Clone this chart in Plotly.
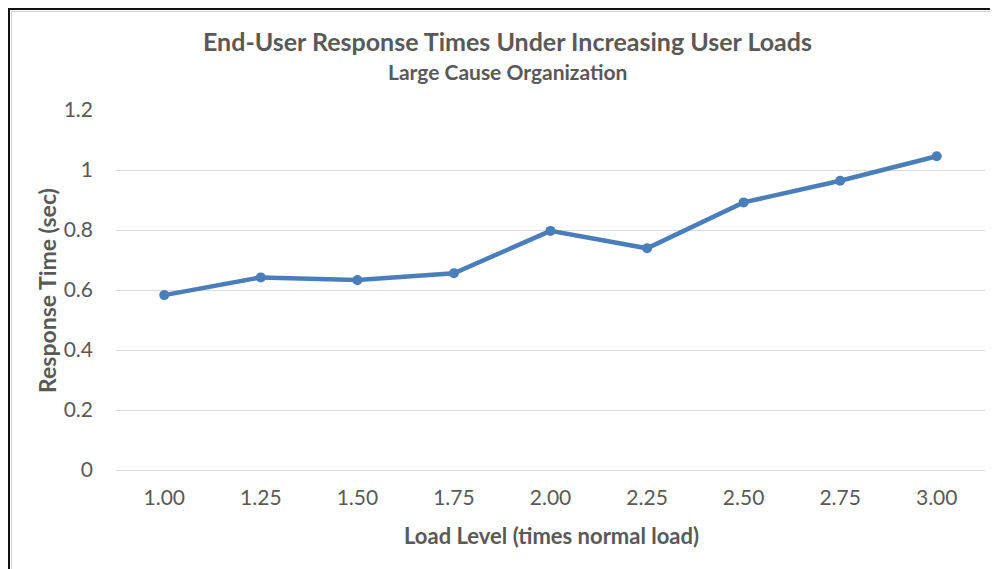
import plotly.graph_objects as go

load_levels = ["1.00", "1.25", "1.50", "1.75", "2.00", "2.25", "2.50", "2.75", "3.00"]
response_times = [0.583, 0.642, 0.633, 0.656, 0.797, 0.739, 0.892, 0.964, 1.046]
y_ticks = [0, 0.2, 0.4, 0.6, 0.8, 1.0, 1.2]
y_tick_text = ["0", "0.2", "0.4", "0.6", "0.8", "1", "1.2"]

# page body has an 8px margin in the browser; figure sized to fit
OFF = 8
W, H = 990, 561
ML, MR, MT, MB = 108, 13, 102, 99
PW, PH = W - ML - MR, H - MT - MB


def px(x):  # screen pixel -> paper x
    return (x - OFF - ML) / PW


def py(y):  # screen pixel -> paper y
    return (OFF + H - MB - y) / PH


FONT = "Lato"
TXT = "#595959"

fig = go.Figure()
fig.add_trace(go.Scatter(
    x=load_levels, y=response_times, mode="lines+markers",
    line=dict(color="#4a7ebb", width=4.5),
    marker=dict(color="#4a7ebb", size=10),
    hoverinfo="skip", showlegend=False,
))

fig.update_layout(
    width=W, height=H,
    margin=dict(l=ML, r=MR, t=MT, b=MB),
    paper_bgcolor="white", plot_bgcolor="white",
    font=dict(family=FONT, color=TXT),
    xaxis=dict(
        type="category", showgrid=False, showline=False, zeroline=False,
        tickfont=dict(size=21, color=TXT), ticklabelstandoff=13,
        range=[-0.5, 8.5],
    ),
    yaxis=dict(
        range=[0, 1.2], tickvals=y_ticks, ticktext=y_tick_text,
        showgrid=True, gridcolor="#d9d9d9", gridwidth=1,
        zeroline=True, zerolinecolor="#d9d9d9", zerolinewidth=1,
        showline=False, tickfont=dict(size=21, color=TXT),
        ticklabelstandoff=22,
    ),
    annotations=[
        dict(text="<b>End-User Response Times Under Increasing User Loads</b>",
             xref="paper", yref="paper", x=px(507), y=py(41),
             xanchor="center", yanchor="middle", showarrow=False,
             font=dict(size=25, color=TXT, family=FONT)),
        dict(text="<b>Large Cause Organization</b>",
             xref="paper", yref="paper", x=px(507), y=py(72),
             xanchor="center", yanchor="middle", showarrow=False,
             font=dict(size=21, color=TXT, family=FONT)),
        dict(text="<b>Load Level (times normal load)</b>",
             xref="paper", yref="paper", x=px(551), y=py(535),
             xanchor="center", yanchor="middle", showarrow=False,
             font=dict(size=22, color=TXT, family=FONT)),
        dict(text="<b>Response Time (sec)</b>", textangle=-90,
             xref="paper", yref="paper", x=px(47), y=py(291),
             xanchor="center", yanchor="middle", showarrow=False,
             font=dict(size=23, color=TXT, family=FONT)),
    ],
    shapes=[
        dict(type="line", xref="paper", yref="paper",
             x0=px(9), y0=py(575), x1=px(9), y1=py(8),
             line=dict(color="#111111", width=2)),
        dict(type="line", xref="paper", yref="paper",
             x0=px(8), y0=py(9), x1=px(1005), y1=py(9),
             line=dict(color="#111111", width=2)),
        dict(type="line", xref="paper", yref="paper",
             x0=px(11.5), y0=py(575), x1=px(11.5), y1=py(11.5),
             line=dict(color="#d0d0d0", width=1)),
        dict(type="line", xref="paper", yref="paper",
             x0=px(11.5), y0=py(11.5), x1=px(1005), y1=py(11.5),
             line=dict(color="#d0d0d0", width=1)),
    ],
)

fig.write_html("out.html")
